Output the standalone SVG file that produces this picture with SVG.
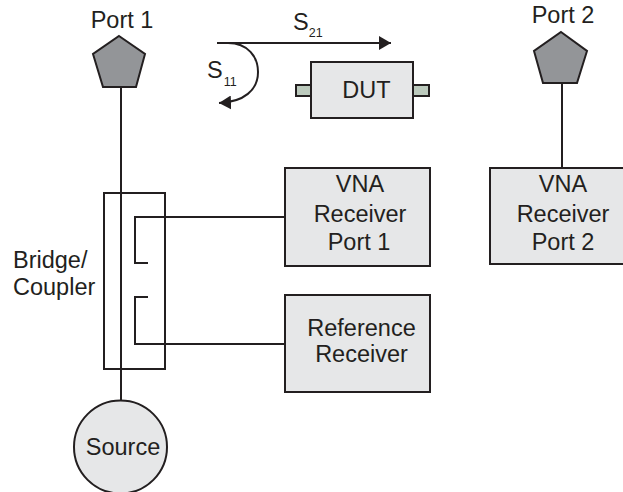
<svg xmlns="http://www.w3.org/2000/svg" width="623" height="492" viewBox="0 0 623 492">
<defs>
<style>
text{font-family:"Liberation Sans",Arial,sans-serif;font-size:23.5px;fill:#231f20}
.c{text-anchor:middle}
.s{font-size:12.5px}
.l{fill:none;stroke:#231f20;stroke-width:2}
.b{fill:#e6e7e8;stroke:#231f20;stroke-width:2}
.p{fill:#939598;stroke:#231f20;stroke-width:2}
.t{fill:#bccabd;stroke:#231f20;stroke-width:2}
</style>
<marker id="a" markerUnits="userSpaceOnUse" markerWidth="13" markerHeight="14" refX="12" refY="7" orient="auto"><path d="M0 0L12 7L0 14Z" fill="#231f20"/></marker>
</defs>
<g id="connectors">
<path class="l" d="M121 87V401"/>
<path class="l" d="M285 217H135V263H148"/>
<path class="l" d="M285 344H135V297H148"/>
<path class="l" d="M562 83V168"/>
<path class="l" d="M217 43H391" marker-end="url(#a)"/>
<path class="l" d="M228 43C248 43 258 57 258 72C258 90 244 102 219 103" marker-end="url(#a)"/>
</g>
<g id="port1"><polygon class="p" points="119,36 145,54 136,87 103,87 93,54"/><text class="c" x="122" y="28">Port 1</text></g>
<g id="port2"><polygon class="p" points="561,32 587,51 577,83 543,83 534,51"/><text class="c" x="563" y="23">Port 2</text></g>
<g id="s21"><text x="293" y="30">S<tspan class="s" dy="7">21</tspan></text></g>
<g id="s11"><text x="207" y="78">S<tspan class="s" dy="8" dx="1">11</tspan></text></g>
<g id="dut">
<rect class="t" x="296" y="85" width="16" height="11"/>
<rect class="t" x="413" y="85" width="16" height="11"/>
<rect class="b" x="311" y="62" width="102" height="56"/>
<text class="c" x="366.500" y="98">DUT</text>
</g>
<g id="coupler"><rect x="104" y="193" width="61" height="176" fill="none" stroke="#231f20" stroke-width="2"/><text x="13" y="268">Bridge/</text><text x="13" y="295">Coupler</text></g>
<g id="vna1"><rect class="b" x="285" y="168" width="145" height="98"/><text class="c" x="360" y="192">VNA</text><text class="c" x="360" y="222">Receiver</text><text class="c" x="359" y="250">Port 1</text></g>
<g id="vna2"><rect class="b" x="490" y="168" width="141" height="96"/><text class="c" x="563" y="192">VNA</text><text class="c" x="563" y="222">Receiver</text><text class="c" x="563" y="250">Port 2</text></g>
<g id="reference"><rect class="b" x="285" y="295" width="145" height="97"/><text class="c" x="361.500" y="336">Reference</text><text class="c" x="361.500" y="362">Receiver</text></g>
<g id="source"><circle class="b" cx="120.500" cy="447" r="46.500"/><text class="c" x="123" y="455">Source</text></g>
</svg>
